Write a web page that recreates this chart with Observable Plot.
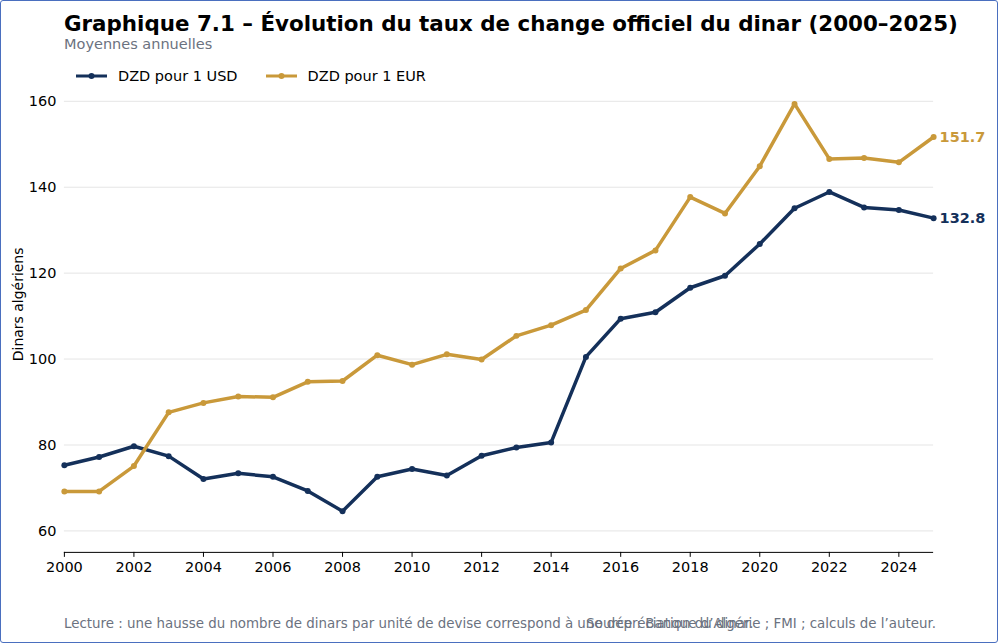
<!DOCTYPE html>
<html><head><meta charset="utf-8">
<script src="https://cdn.jsdelivr.net/npm/d3@7"></script>
<script src="https://cdn.jsdelivr.net/npm/@observablehq/plot@0.6"></script>
<style>
body{margin:0;font-family:"DejaVu Sans",sans-serif;}
#wrap{position:relative;width:996px;height:641px;border:1px solid #4a6fbf;border-radius:3px;overflow:hidden;background:#fff}
#wrap svg{position:absolute;left:-1px;top:-1px}
.t{position:absolute;white-space:nowrap}
</style></head><body>
<div id="wrap">
<div class="t" style="left:63px;top:10px;font-size:21.4px;font-weight:bold;color:#000">Graphique 7.1 – Évolution du taux de change officiel du dinar (2000–2025)</div>
<div class="t" style="left:63px;top:35px;font-size:14.5px;color:#6b7280">Moyennes annuelles</div>
<div class="t" style="left:75px;top:67px;font-size:14.5px;color:#000;display:flex;align-items:center">
<svg width="32" height="10" style="position:static"><line x1="0" y1="5" x2="31" y2="5" stroke="#14305a" stroke-width="3"/><circle cx="15.5" cy="5" r="3" fill="#14305a"/></svg>
<span style="margin-left:10px">DZD pour 1 USD</span>
<svg width="32" height="10" style="position:static;margin-left:28px"><line x1="0" y1="5" x2="31" y2="5" stroke="#c9993a" stroke-width="3"/><circle cx="15.5" cy="5" r="3" fill="#c9993a"/></svg>
<span style="margin-left:10px">DZD pour 1 EUR</span>
</div>
<div id="chart"></div>
<div class="t" style="left:63px;top:615px;font-size:13.4px;color:#6b7280">Lecture : une hausse du nombre de dinars par unité de devise correspond à une dépréciation du dinar.</div>
<div class="t" style="right:61px;top:615px;font-size:13.4px;color:#6b7280">Source : Banque d’Algérie ; FMI ; calculs de l’auteur.</div>
</div>
<script>
const years = d3.range(2000, 2026);
const usd = [75.3,77.2,79.7,77.4,72.1,73.4,72.6,69.3,64.6,72.6,74.4,72.9,77.5,79.4,80.6,100.5,109.4,110.9,116.6,119.4,126.8,135.1,138.9,135.3,134.7,132.8];
const eur = [69.2,69.2,75.1,87.6,89.8,91.3,91.1,94.7,94.9,100.9,98.7,101.1,99.9,105.4,107.9,111.4,121.1,125.3,137.7,133.9,144.9,159.4,146.6,146.8,145.8,151.7];
const seriesNames = ["DZD pour 1 USD","DZD pour 1 EUR"];
const colors = ["#14305a","#c9993a"];
const data = years.flatMap((y,i)=>[{year:y,v:usd[i],s:seriesNames[0]},{year:y,v:eur[i],s:seriesNames[1]}]);
const last = data.filter(d=>d.year===2025);
const plot = Plot.plot({
  width:998, height:643,
  marginTop:95, marginBottom:90, marginLeft:64, marginRight:63,
  style:{fontFamily:"DejaVu Sans, sans-serif", fontSize:"14.5px", color:"#000", background:"transparent"},
  x:{domain:[2000,2025], label:null},
  y:{domain:[55,161.4], label:null},
  color:{domain:seriesNames, range:colors},
  marks:[
    Plot.gridY([60,80,100,120,140,160],{stroke:"#e5e5e5", strokeOpacity:1}),
    Plot.axisY({ticks:[60,80,100,120,140,160], tickSize:0, tickPadding:8, label:null, fontSize:14.5}),
    Plot.axisX({ticks:d3.range(2000,2026,2), tickFormat:d=>String(d), label:null, tickSize:5, fontSize:14.5}),
    Plot.ruleY([55],{stroke:"#000"}),
    Plot.line(data,{x:"year",y:"v",stroke:"s",strokeWidth:3.5}),
    Plot.dot(data,{x:"year",y:"v",fill:"s",r:3}),
    Plot.text(last,{x:"year",y:"v",text:d=>d.v.toFixed(1),fill:"s",dx:6,textAnchor:"start",fontWeight:"bold",fontSize:14.5})
  ]
});
document.getElementById("chart").appendChild(plot);
d3.select(plot).append("text").attr("transform","translate(23,305) rotate(-90)").attr("text-anchor","middle").attr("font-size",14).attr("fill","#000").text("Dinars algériens");
</script>
</body></html>
